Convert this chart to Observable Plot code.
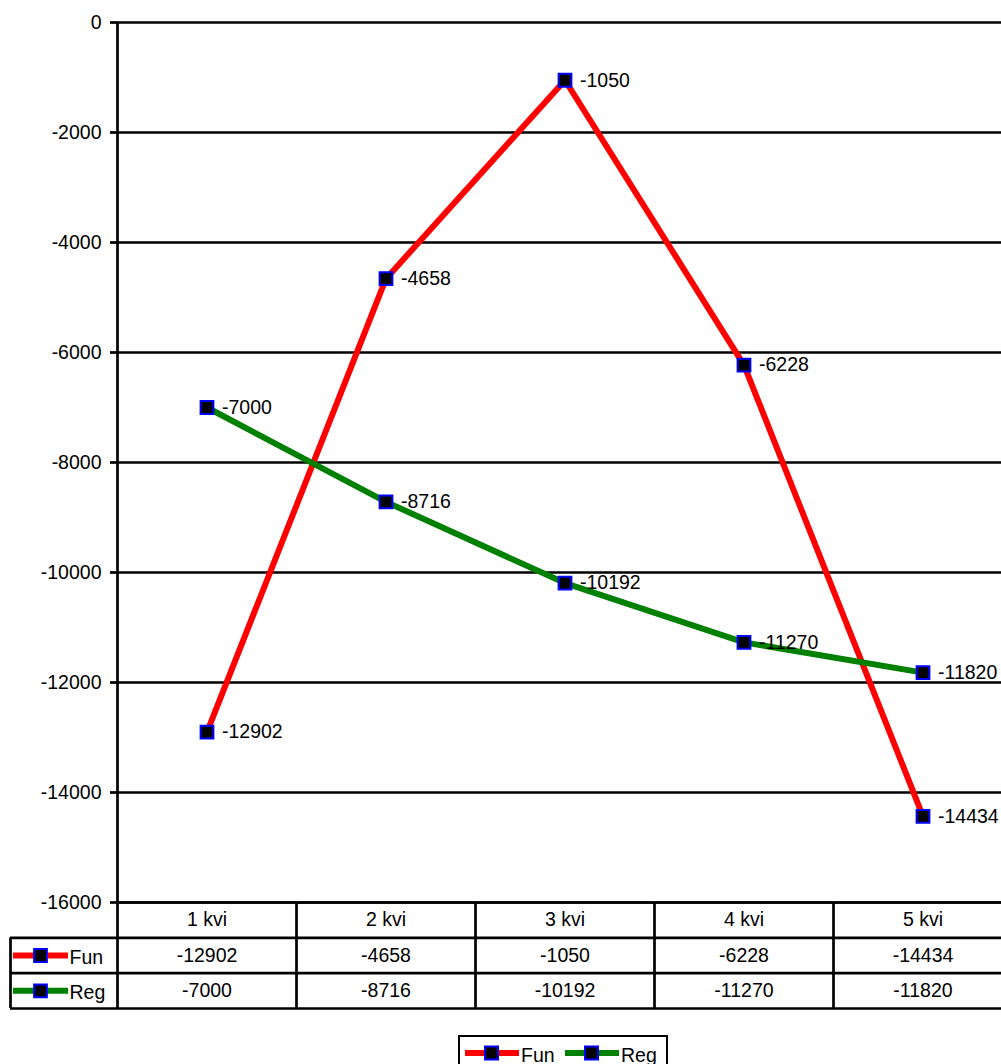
<!DOCTYPE html>
<html>
<head>
<meta charset="utf-8">
<script src="https://cdn.jsdelivr.net/npm/d3@7"></script>
<script src="https://cdn.jsdelivr.net/npm/@observablehq/plot@0.6"></script>
<style>
  html, body { margin: 0; padding: 0; background: white; }
  body { width: 1001px; height: 1064px; position: relative; overflow: hidden; font-family: "Liberation Sans", Arial, sans-serif; }
  svg { display: block; }
  #legend { position: absolute; left: 458px; top: 1035px; width: 206px; height: 34px; border: 2px solid black; box-sizing: content-box; }
  #legend .item { position: absolute; top: 0; height: 34px; }
  #legend span { position: absolute; font-size: 19.5px; line-height: 34px; top: 0; color: black; }
</style>
</head>
<body>
<div id="chart"></div>
<div id="table"></div>
<div id="legend"></div>
<script>
const categories = ["1 kvi", "2 kvi", "3 kvi", "4 kvi", "5 kvi"];
const funValues = [-12902, -4658, -1050, -6228, -14434];
const regValues = [-7000, -8716, -10192, -11270, -11820];
const seriesNames = ["Fun", "Reg"];
const seriesColors = ["#ff0000", "#008000"];
const yTicks = [0, -2000, -4000, -6000, -8000, -10000, -12000, -14000, -16000];

const seriesValues = [funValues, regValues];
const rows = seriesNames.flatMap((name, s) =>
  seriesValues[s].map((v, i) => ({series: name, idx: i + 1, cat: categories[i], value: v, color: seriesColors[s]}))
);

const FONT = "Liberation Sans, Arial, sans-serif";
const FS = 19.5;
const LW = 2.7;
const xDomain = [0.5, categories.length + 0.5];
const xRange = [117, 1012];
const xs = d3.scaleLinear(xDomain, xRange);
const colBounds = d3.range(0.5, categories.length + 0.5, 1);

const markerOpts = {symbol: "square", r: 7.2, fill: "black", stroke: "#0000ff", strokeWidth: 2};

const chartMarks = [
  Plot.ruleY(yTicks, {stroke: "black", strokeWidth: LW}),
  Plot.ruleX([xDomain[0]], {y1: -16000, y2: 0, stroke: "black", strokeWidth: LW}),
  Plot.axisY(yTicks, {label: null, tickSize: 7, tickPadding: 9, tickFormat: d => String(d), strokeWidth: LW, fontSize: FS, fill: "black", stroke: "black"})
];
seriesNames.forEach((name, s) => {
  const data = rows.filter(d => d.series === name);
  chartMarks.push(Plot.line(data, {x: "idx", y: "value", stroke: seriesColors[s], strokeWidth: 6}));
});
seriesNames.forEach((name) => {
  const data = rows.filter(d => d.series === name);
  chartMarks.push(Plot.dot(data, {x: "idx", y: "value", ...markerOpts}));
  chartMarks.push(Plot.text(data, {x: "idx", y: "value", text: d => String(d.value), dx: 15, textAnchor: "start", fontSize: FS, fill: "black"}));
});

const chart = Plot.plot({
  width: 1001, height: 902,
  marginTop: 22, marginBottom: 0, marginLeft: 117, marginRight: 0,
  style: {fontFamily: FONT, fontSize: FS + "px", color: "black", background: "white", overflow: "visible"},
  x: {type: "linear", domain: xDomain, range: xRange, axis: null},
  y: {type: "linear", domain: [-16000, 0], range: [902, 22], axis: null, label: null},
  marks: chartMarks
});
document.getElementById("chart").appendChild(chart);

// data table under the chart
const labelLeft = xs.invert(10);
const tableCells = rows.map(d => ({...d, row: seriesNames.indexOf(d.series) + 1.5}));
const rowLabels = seriesNames.map((name, s) => ({name, color: seriesColors[s], row: s + 1.5}));

const tableMarks = [
  Plot.ruleY([0], {x1: xDomain[0], x2: xDomain[1], stroke: "black", strokeWidth: LW}),
  Plot.ruleY([1, 2, 3], {x1: labelLeft, x2: xDomain[1], stroke: "black", strokeWidth: LW}),
  Plot.ruleX(colBounds, {y1: 0, y2: 3, stroke: "black", strokeWidth: LW}),
  Plot.ruleX([labelLeft], {y1: 1, y2: 3, stroke: "black", strokeWidth: LW}),
  Plot.text(categories, {x: (d, i) => i + 1, y: () => 0.5, text: d => d, fontSize: FS, fill: "black"}),
  Plot.text(tableCells, {x: "idx", y: "row", text: d => String(d.value), fontSize: FS, fill: "black"}),
  Plot.ruleY(rowLabels, {y: "row", x1: xs.invert(13), x2: xs.invert(68), stroke: "color", strokeWidth: 6}),
  Plot.dot(rowLabels, {x: () => xs.invert(40), y: "row", ...markerOpts}),
  Plot.text(rowLabels, {x: () => xs.invert(69), y: "row", text: "name", textAnchor: "start", fontSize: FS, fill: "black", dy: 2})
];

const table = Plot.plot({
  width: 1001, height: 108,
  marginTop: 0, marginBottom: 0, marginLeft: 0, marginRight: 0,
  style: {fontFamily: FONT, fontSize: FS + "px", color: "black", background: "white", overflow: "visible"},
  x: {type: "linear", domain: xDomain, range: xRange, axis: null},
  y: {type: "linear", domain: [0, 3], range: [0, 106], axis: null},
  color: {type: "identity"},
  marks: tableMarks
});
document.getElementById("table").appendChild(table);

// legend
const legend = document.getElementById("legend");
const legendX = [3, 103];
seriesNames.forEach((name, s) => {
  const item = document.createElement("div");
  item.className = "item";
  item.style.left = legendX[s] + "px";
  item.innerHTML = `<svg width="58" height="34" style="position:absolute;left:0;top:0">
      <line x1="2" x2="56" y1="16" y2="16" stroke="${seriesColors[s]}" stroke-width="6"/>
      <rect x="22" y="9.5" width="13" height="13" fill="black" stroke="#0000ff" stroke-width="2"/>
    </svg><span style="left:58px;top:1px">${name}</span>`;
  legend.appendChild(item);
});
</script>
</body>
</html>
